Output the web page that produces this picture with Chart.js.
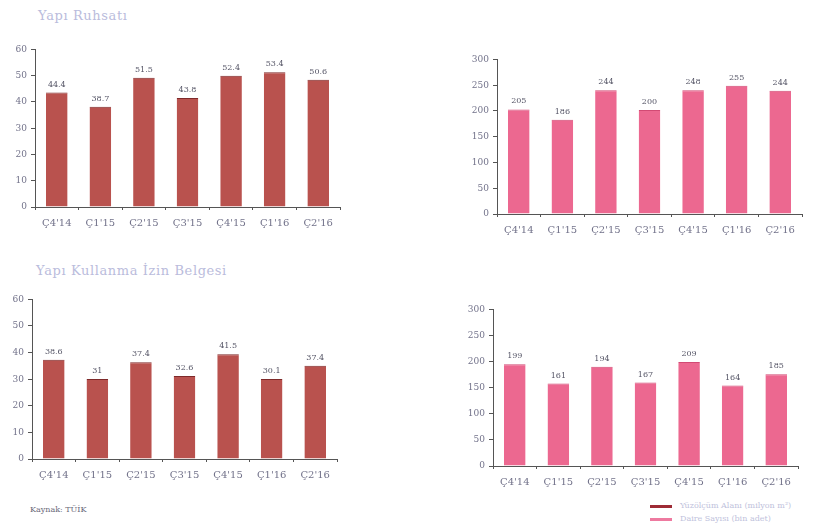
<!DOCTYPE html>
<html>
<head>
<meta charset="utf-8">
<script src="https://cdn.jsdelivr.net/npm/chart.js@4/dist/chart.umd.min.js"></script>
<style>
  html, body { margin: 0; padding: 0; background: #fff; }
  body { width: 819px; height: 523px; position: relative; overflow: hidden; font-family: "DejaVu Serif", serif; }
  .box { position: absolute; }
  .title { position: absolute; color: #babcdc; font-size: 13px; letter-spacing: 0.6px; }
  .note { position: absolute; color: #6a6a7a; font-size: 8px; }
  .leg { position: absolute; font-size: 8px; color: #c0c2dc; white-space: nowrap; }
  .leg span { display: inline-block; width: 22px; height: 3px; vertical-align: middle; margin-right: 8px; }
</style>
</head>
<body>
<div class="title" style="left:38px; top:8px;">Yapı Ruhsatı</div>
<div class="title" style="left:36px; top:263px;">Yapı Kullanma İzin Belgesi</div>
<div class="note" style="left:30px; top:505px;">Kaynak: TÜİK</div>
<div class="leg" style="left:650px; top:501px;"><span style="background:#9e2b35"></span>Yüzölçüm Alanı (milyon m²)</div>
<div class="leg" style="left:650px; top:514px;"><span style="background:#ee7aa0"></span>Daire Sayısı (bin adet)</div>

<div class="box" style="left:0px; top:40px; width:345px; height:194px;"><canvas id="c1"></canvas></div>
<div class="box" style="left:462px; top:50px; width:345px; height:191px;"><canvas id="c2"></canvas></div>
<div class="box" style="left:0px; top:290px; width:342px; height:196px;"><canvas id="c3"></canvas></div>
<div class="box" style="left:458px; top:300px; width:345px; height:193px;"><canvas id="c4"></canvas></div>

<script>
// quarters shared by all four panels
const quarters = ["Ç4'14", "Ç1'15", "Ç2'15", "Ç3'15", "Ç4'15", "Ç1'16", "Ç2'16"];

// Yapı Ruhsatı
const ruhsatAlan = [43.6, 38.2, 49.2, 41.5, 50.0, 51.3, 48.4];
const ruhsatAlanLabels = ['44.4', '38.7', '51.5', '43.8', '52.4', '53.4', '50.6'];
const ruhsatDaire = [203, 183, 240, 202, 240, 249, 239];
const ruhsatDaireLabels = ['205', '186', '244', '200', '248', '255', '244'];

// Yapı Kullanma İzin Belgesi
const iskanAlan = [37.3, 30.1, 36.4, 31.2, 39.4, 30.1, 35.1];
const iskanAlanLabels = ['38.6', '31', '37.4', '32.6', '41.5', '30.1', '37.4'];
const iskanDaire = [195, 158, 190, 160, 199, 154, 176];
const iskanDaireLabels = ['199', '161', '194', '167', '209', '164', '185'];

const BROWN = '#b9524e';
const BROWN_EDGE = '#7e2a2a';
const PINK = '#ec6890';
const PINK_EDGE = '#d24a74';

// draws the value strings above each bar
const barText = {
  id: 'barText',
  afterDatasetsDraw(chart, _args, opts) {
    const ctx = chart.ctx;
    const meta = chart.getDatasetMeta(0);
    ctx.save();
    ctx.font = '8px "DejaVu Serif"';
    ctx.fillStyle = '#555566';
    ctx.textAlign = 'center';
    ctx.textBaseline = 'bottom';
    meta.data.forEach((bar, i) => {
      ctx.fillText(opts.labels[i], bar.x, bar.y - 4);
    });
    ctx.restore();
  }
};

function makeChart(id, values, labels, max, step, color, edge, axisW) {
  return new Chart(document.getElementById(id), {
    type: 'bar',
    data: {
      labels: quarters,
      datasets: [{
        data: values,
        backgroundColor: color,
        borderColor: edge,
        borderWidth: { top: 1, left: 0, right: 0, bottom: 0 },
        borderSkipped: false,
        categoryPercentage: 0.8,
        barPercentage: 0.62
      }]
    },
    options: {
      responsive: true,
      maintainAspectRatio: false,
      animation: false,
      layout: { padding: { top: 7, right: 5, left: 0, bottom: 0 } },
      plugins: {
        legend: { display: false },
        tooltip: { enabled: false },
        barText: { labels }
      },
      scales: {
        x: {
          afterFit: (s) => { s.height = 27; },
          border: { color: '#555', width: 1 },
          grid: { display: true, drawOnChartArea: false, tickLength: 3, color: '#555', offset: true },
          ticks: { color: '#72728a', font: { family: 'DejaVu Serif', size: 10 }, padding: 7 }
        },
        y: {
          min: 0,
          max,
          afterFit: (s) => { s.width = axisW; },
          border: { color: '#555', width: 1 },
          grid: { display: true, drawOnChartArea: false, tickLength: 4, color: '#555' },
          ticks: { stepSize: step, color: '#72728a', font: { family: 'DejaVu Serif', size: 9 }, padding: 4 }
        }
      }
    },
    plugins: [barText]
  });
}

makeChart('c1', ruhsatAlan, ruhsatAlanLabels, 60, 10, BROWN, BROWN_EDGE, 35);
makeChart('c2', ruhsatDaire, ruhsatDaireLabels, 300, 50, PINK, PINK_EDGE, 35);
makeChart('c3', iskanAlan, iskanAlanLabels, 60, 10, BROWN, BROWN_EDGE, 32);
makeChart('c4', iskanDaire, iskanDaireLabels, 300, 50, PINK, PINK_EDGE, 35);
</script>
</body>
</html>
